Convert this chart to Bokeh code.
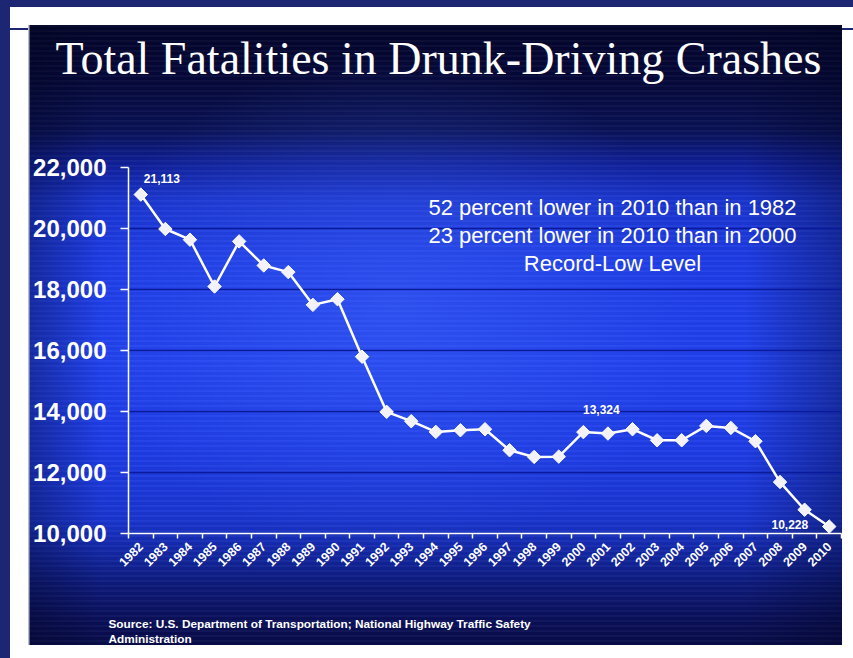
from math import pi
from bokeh.plotting import figure
from bokeh.models import FixedTicker, NumeralTickFormatter, Label, Title, LinearAxis
from bokeh.embed import file_html
from bokeh.resources import INLINE

# ---------------- data ----------------
years = list(range(1982, 2011))
fatalities = [21113, 19984, 19633, 18098, 19577, 18788, 18570, 17496, 17683,
              15797, 13989, 13682, 13331, 13386, 13419, 12729, 12510, 12520,
              13324, 13277, 13419, 13057, 13057, 13528, 13462, 13025, 11687,
              10779, 10228]
y_ticks = [10000, 12000, 14000, 16000, 18000, 20000, 22000]
callout_years = [1982, 2000, 2010]
callout_texts = ["21,113", "13,324", "10,228"]
title_text = "Total Fatalities in Drunk-Driving Crashes"
note_lines = ["52 percent lower in 2010 than in 1982",
              "23 percent lower in 2010 than in 2000",
              "Record-Low Level"]
source_lines = ["Source:  U.S. Department of Transportation;  National Highway Traffic Safety",
                "Administration"]

# ---------------- figure ----------------
W, H = 853, 658
FL, FR, FT, FB = 128, 841, 167, 533   # frame edges (canvas px)
p = figure(width=W, height=H, x_range=(1981.5, 2010.5), y_range=(10000, 22000),
           output_backend="svg", toolbar_location=None,
           min_border_left=FL, min_border_right=W - FR, min_border_top=FT,
           min_border_bottom=H - FB)
p.border_fill_alpha = 0
p.background_fill_alpha = 0
p.outline_line_color = None

# slide-like backdrop painted with CSS behind the transparent canvas
navy = "#1c2672"
solid = lambda c: "linear-gradient(%s,%s)" % (c, c)
slide_layers = [
    "radial-gradient(ellipse 38% 40% at 45% 45%, rgba(70,110,255,0.38), rgba(70,110,255,0) 100%)",
    "linear-gradient(to right, rgba(2,4,30,0.35) 0%, rgba(2,4,30,0) 9%, rgba(2,4,30,0) 88%, rgba(2,4,30,0.35) 100%)",
    "repeating-linear-gradient(to bottom, rgba(255,255,255,0.035) 0px, rgba(255,255,255,0.035) 2px, rgba(0,0,40,0.04) 2px, rgba(0,0,40,0.04) 5px)",
    "linear-gradient(to bottom, #03052a 0px, #050838 55px, #091255 105px, #10209a 140px, #1a35cf 175px, "
    "#1e3ce6 235px, #2142ee 335px, #1e3ce6 425px, #1a35cf 495px, #1429aa 523px, #0d1a7a 560px, "
    "#0a1058 595px, #080c48 620px)",
]
layers = [
    (solid(navy), "10px 100%", "0px 0px"),
    (solid(navy), "100% 7px", "0px 0px"),
    (solid(navy), "18px 2px", "10px 28px"),
    (solid(navy), "11px 2px", "842px 28px"),
    (solid("#b8bcd0"), "1.5px 620px", "28px 25px"),
] + [(s, "814px 620px", "28px 25px") for s in slide_layers]
p.styles = {
    "background-color": "white",
    "background-image": ", ".join(l[0] for l in layers),
    "background-size": ", ".join(l[1] for l in layers),
    "background-position": ", ".join(l[2] for l in layers),
    "background-repeat": "no-repeat",
}

# ---------------- spacer axis above (pushes title up) ----------------
spacer = LinearAxis(ticker=FixedTicker(ticks=[]), axis_line_color=None,
                    major_tick_line_color=None, minor_tick_line_color=None,
                    major_tick_out=0, major_tick_in=0, minor_tick_out=0, minor_tick_in=0,
                    major_label_standoff=0, axis_label="\u00a0",
                    axis_label_text_font_size="12px", axis_label_standoff=62)
p.add_layout(spacer, "above")

# ---------------- title / source ----------------
p.title.text = title_text
p.title.text_font = "Liberation Serif"
p.title.text_font_size = "46px"
p.title.text_font_style = "normal"
p.title.text_color = "white"
p.title.align = "left"
p.title.offset = -73
p.title.standoff = 10

p.add_layout(Title(text="\n".join(source_lines), align="left", offset=-20, standoff=0,
                   text_font="Liberation Sans", text_font_style="bold",
                   text_font_size="11.8px", text_line_height=1.1,
                   text_color="white"), "below")

# ---------------- axes ----------------
p.yaxis.ticker = FixedTicker(ticks=y_ticks)
p.yaxis.formatter = NumeralTickFormatter(format="0,0")
p.yaxis.major_label_text_font = "Liberation Sans"
p.yaxis.major_label_text_font_style = "bold"
p.yaxis.major_label_text_font_size = "24px"
p.yaxis.major_label_text_color = "white"
p.yaxis.major_label_standoff = 14
p.yaxis.major_tick_out = 8
p.yaxis.major_tick_in = 0
p.yaxis.minor_tick_line_color = None
p.yaxis.axis_line_color = "white"
p.yaxis.axis_line_width = 1.5
p.yaxis.major_tick_line_color = "white"
p.yaxis.major_tick_line_width = 1.5

xax = p.below[0]
xax.ticker = FixedTicker(ticks=years, minor_ticks=[yr - 0.5 for yr in years] + [years[-1] + 0.5])
xax.major_label_orientation = pi / 4
xax.major_label_text_font = "Liberation Sans"
xax.major_label_text_font_style = "bold"
xax.major_label_text_font_size = "12.5px"
xax.major_label_text_color = "white"
xax.major_label_standoff = 6
xax.major_tick_out = 0
xax.major_tick_in = 0
xax.minor_tick_out = 5
xax.minor_tick_in = 0
xax.minor_tick_line_color = "white"
xax.minor_tick_line_width = 1.5
xax.axis_line_color = "white"
xax.axis_line_width = 1.5
xax.axis_label = "\u00a0"          # invisible spacer pushing the source down
xax.axis_label_text_font_size = "12px"
xax.axis_label_standoff = 25

p.xgrid.grid_line_color = None
p.ygrid.ticker = FixedTicker(ticks=y_ticks)
p.ygrid.grid_line_color = "#0b1a9a"
p.ygrid.grid_line_width = 1.5

# ---------------- data marks ----------------
p.line(years, fatalities, line_color="white", line_width=2.5)
p.scatter(years, fatalities, marker="square", angle=pi / 4, size=9.5,
          fill_color="#f2f2f8", line_color="white", line_width=1)

offsets = [(3, 16, "left"), (18, 23, "center"), (-21, 2, "right")]
for yr, txt, (dx, dy, al) in zip(callout_years, callout_texts, offsets):
    v = fatalities[years.index(yr)]
    p.add_layout(Label(x=yr, y=v, text=txt, x_offset=dx, y_offset=dy,
                       text_align=al, text_baseline="middle",
                       text_font="Liberation Sans", text_font_style="bold",
                       text_font_size="12px", text_color="white"))

for i, line in enumerate(note_lines):
    p.add_layout(Label(x=612, y=207 + 28 * i, x_units="canvas", y_units="canvas",
                       text=line, text_align="center", text_baseline="middle",
                       text_font="Liberation Sans", text_font_size="22px",
                       text_color="white"))

open("out.html", "w").write(file_html(p, INLINE))
